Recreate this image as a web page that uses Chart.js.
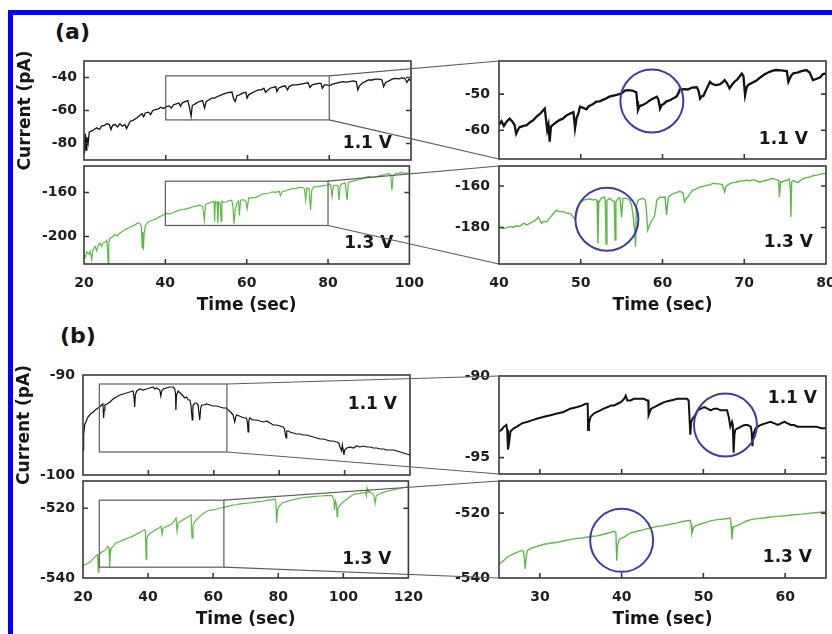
<!DOCTYPE html>
<html>
<head>
<meta charset="utf-8">
<script src="https://cdn.jsdelivr.net/npm/chart.js@4.4.0/dist/chart.umd.min.js"></script>
<style>
body { margin: 0; background: #fff; width: 832px; height: 634px; overflow: hidden; position: relative; }
#frame { position: absolute; left: 8px; top: 10px; width: 900px; height: 700px; border: 5px solid #0000ff; }
canvas.panel { position: absolute; }
.letter { position: absolute; font: bold 22px "DejaVu Sans"; line-height: 24px; color: #151515; }
#overlay { position: absolute; left: 0; top: 0; pointer-events: none; }
</style>
</head>
<body>
<div id="frame"></div>
<div class="letter" style="left:55px;top:20px">(a)</div>
<div class="letter" style="left:60px;top:324px">(b)</div>
<canvas id="aTL" class="panel"></canvas>
<canvas id="aBL" class="panel"></canvas>
<canvas id="aTR" class="panel"></canvas>
<canvas id="aBR" class="panel"></canvas>
<canvas id="bTL" class="panel"></canvas>
<canvas id="bBL" class="panel"></canvas>
<canvas id="bTR" class="panel"></canvas>
<canvas id="bBR" class="panel"></canvas>
<canvas id="overlay" width="832" height="634"></canvas>
<script>
// tick values
const aLeftTimeTicks = [20, 40, 60, 80, 100];
const aRightTimeTicks = [40, 50, 60, 70, 80];
const bLeftTimeTicks = [20, 40, 60, 80, 100, 120];
const bRightTimeTicks = [30, 40, 50, 60];
const aTopLeftTicks = [-40, -60, -80];
const aBotLeftTicks = [-160, -200];
const aTopRightTicks = [-50, -60];
const aBotRightTicks = [-160, -180];
const bTopLeftTicks = [-90, -100];
const bBotLeftTicks = [-520, -540];
const bTopRightTicks = [-90, -95];
const bBotRightTicks = [-520, -540];

// (a) 1.1 V, 20-100 s  [time, pA]
const aTopLeft = [[20.0,-78],[20.1,-86],[20.3,-74],[20.5,-84],[20.7,-76],[21.0,-80],[21.3,-73],[21.8,-72.5],[22.5,-71.5],[23.1,-70.5],[23.8,-71.5],[24.3,-69.5],[25.0,-69],[25.6,-68],[26.2,-68.5],[26.6,-71.5],[27.0,-69],[27.6,-68.5],[28.2,-70],[28.8,-68],[29.4,-69.5],[30.0,-68.5],[30.4,-71],[30.8,-69],[31.3,-66.5],[32.0,-66],[32.9,-64.5],[33.6,-63],[34.2,-62],[34.6,-63.8],[35.0,-61.5],[35.8,-61],[36.3,-62.5],[36.8,-60],[37.5,-59.5],[38.2,-59],[38.8,-58],[39.4,-58.8],[40.0,-57.8],[40.8,-57.2],[41.4,-58.5],[41.9,-56.5],[42.6,-56],[43.2,-55.5],[43.6,-57.5],[44.0,-55.5],[44.8,-54.5],[45.4,-54],[45.8,-58],[46.2,-63.5],[46.5,-57],[47.2,-56],[47.8,-55],[48.4,-54.5],[49.0,-54],[49.5,-58.5],[49.9,-54.5],[50.6,-53.5],[51.3,-52.5],[52.0,-52.5],[52.6,-51.5],[53.3,-51],[54.0,-50],[54.8,-49.5],[55.5,-49],[56.2,-48.8],[56.6,-53],[57.0,-54.5],[57.4,-51],[58.0,-50.5],[58.8,-49.5],[59.6,-49],[59.9,-52.5],[60.3,-50.5],[61.0,-49.5],[61.8,-48.5],[62.6,-47.5],[63.4,-47.5],[64.0,-46.5],[64.4,-49],[64.8,-48],[65.5,-46.5],[66.3,-46],[66.9,-45.5],[67.2,-48.5],[67.6,-46.5],[68.4,-45.5],[69.2,-45],[69.8,-47.5],[70.2,-45.5],[71.0,-44.5],[72.0,-44.5],[73.0,-44],[74.0,-43.5],[74.8,-43.2],[75.3,-46],[75.8,-44.5],[76.5,-44],[77.4,-43.5],[78.0,-43.5],[78.3,-46.5],[78.8,-44.5],[79.4,-44.5],[80.0,-45],[80.8,-44],[81.6,-43.5],[82.5,-43],[83.4,-42.5],[84.2,-42.8],[85.0,-42.5],[85.8,-42],[86.6,-42.5],[87.0,-47.5],[87.4,-45],[88.0,-43.5],[88.8,-42.5],[89.6,-41.5],[90.5,-41.5],[91.3,-41],[92.2,-41],[92.9,-41.5],[93.3,-45.5],[93.8,-43],[94.6,-42],[95.4,-41],[96.2,-40.5],[97.0,-40.8],[97.8,-40.2],[98.5,-40.5],[99.0,-43],[99.5,-41],[100,-42]];

// (a) 1.3 V, 20-100 s
const aBotLeft = [[20.0,-216],[20.3,-219],[20.7,-214],[21.2,-216],[21.5,-213.5],[21.9,-221],[22.2,-212],[22.7,-209],[23.1,-213],[23.5,-208],[23.9,-206],[24.3,-209],[24.7,-206],[25.2,-205],[25.6,-203.5],[25.8,-212],[25.95,-225],[26.1,-206],[26.4,-201.5],[27.0,-200.5],[27.6,-198.5],[28.2,-199.5],[28.6,-197.5],[29.2,-196],[30.0,-194],[30.8,-192.5],[31.6,-191],[32.5,-189.5],[33.3,-187.5],[33.8,-188.5],[34.1,-191],[34.3,-210],[34.45,-196],[34.6,-212],[34.8,-197],[35.1,-190],[35.7,-187],[36.3,-186],[37.0,-185],[37.8,-184],[38.6,-182],[39.3,-181],[40.1,-179],[41.0,-179.5],[41.9,-178.5],[42.7,-177],[43.5,-176],[44.3,-175.5],[45.1,-175],[46.0,-174],[46.8,-173],[47.6,-172.5],[48.4,-171.5],[49.2,-173],[49.6,-185],[49.9,-171],[50.4,-170],[51.0,-169.5],[51.7,-168],[52.0,-169],[52.1,-186.5],[52.3,-168],[52.7,-169],[52.9,-188],[53.1,-168.5],[53.5,-170],[53.7,-186],[53.9,-168],[54.4,-169],[55.0,-168.5],[55.7,-167.5],[56.3,-167],[56.6,-172],[56.9,-188.5],[57.2,-175],[57.6,-170],[58.0,-168],[58.2,-181],[58.5,-167],[59.2,-166.5],[59.8,-168],[60.1,-175],[60.5,-165],[61.3,-165],[62.3,-164.5],[63.1,-163],[63.9,-161.5],[64.8,-161],[65.6,-160.5],[66.3,-159.5],[67.1,-160],[68.0,-159],[68.3,-163],[68.7,-159.5],[69.6,-158.5],[70.4,-157.5],[71.2,-156.5],[72.0,-156.5],[72.9,-155.5],[73.6,-155.5],[74.2,-156.5],[74.5,-167],[74.8,-156],[75.3,-156.5],[75.7,-176],[76.0,-158],[76.5,-155],[77.2,-155],[77.8,-154.5],[78.6,-154],[79.4,-153.5],[80.2,-153],[80.6,-152.5],[81.0,-164],[81.3,-154],[81.9,-153.5],[82.4,-154],[82.7,-167],[83.0,-154],[83.5,-152],[84.2,-151.5],[84.7,-167],[85.0,-151],[85.8,-150],[86.8,-149],[87.6,-148.5],[88.4,-147.5],[89.2,-146.5],[90.0,-145.5],[90.8,-146],[91.7,-146],[92.5,-145],[93.3,-144.5],[94.1,-143.5],[94.9,-143],[95.4,-144],[95.7,-158],[96.0,-145],[96.5,-143],[97.3,-142.5],[98.1,-142],[98.9,-142.5],[99.8,-142.5]];

// (a) 1.1 V, zoom 40-80 s
const aTopRight = [[40.0,-58.5],[40.3,-57.5],[40.6,-58.8],[40.9,-57.7],[41.3,-56.8],[41.6,-57.5],[41.9,-58.5],[42.1,-61],[42.3,-60],[42.5,-59.2],[43.0,-58.8],[43.4,-58.6],[43.8,-57.8],[44.2,-57.2],[44.6,-56.2],[45.0,-55.5],[45.4,-54.5],[45.6,-54],[45.75,-57],[45.9,-60],[46.05,-58.5],[46.2,-63.2],[46.35,-59],[46.6,-58.5],[47.0,-57.8],[47.4,-57.2],[47.8,-56.8],[48.2,-56],[48.7,-55.4],[49.1,-55],[49.2,-57],[49.3,-59.5],[49.5,-56.5],[49.7,-55.5],[49.9,-53.5],[50.3,-53.8],[50.7,-54.2],[51.0,-53.3],[51.3,-53],[51.6,-52.6],[51.9,-52.1],[52.3,-52],[52.7,-51.6],[53.1,-51.2],[53.5,-50.7],[54.0,-50.4],[54.4,-50.2],[55.0,-49.8],[55.4,-49],[55.8,-48.9],[56.3,-49],[56.8,-49.5],[56.9,-52],[57.0,-54.4],[57.2,-53.3],[57.6,-53],[58.0,-52.5],[58.4,-51.8],[58.8,-51.3],[59.3,-50.7],[59.5,-51.5],[59.7,-54],[59.9,-53],[60.1,-52.8],[60.5,-52],[60.9,-51.7],[61.3,-51.2],[61.7,-50.7],[62.0,-49.5],[62.1,-48.7],[62.6,-48.6],[63.1,-48.7],[63.6,-48.2],[64.2,-48.1],[64.4,-49],[64.6,-51.2],[64.8,-50.6],[65.0,-50.5],[65.4,-48.5],[65.8,-46.6],[66.1,-47.2],[66.5,-47.5],[67.0,-47.3],[67.4,-46.6],[67.6,-46.1],[67.9,-47],[68.2,-48.4],[68.5,-47.4],[68.8,-46.6],[69.2,-45.8],[69.7,-44.3],[69.9,-45],[70.1,-50.3],[70.3,-48],[70.5,-47.4],[71.0,-46.8],[71.5,-46.2],[72.0,-45.3],[72.5,-44.5],[73.1,-43.8],[73.5,-43.5],[73.9,-43.3],[74.5,-43.4],[75.2,-43.6],[75.4,-46.6],[75.7,-45],[76.0,-44.2],[76.5,-44],[77.0,-43.6],[77.6,-43.3],[78.0,-44],[78.4,-46.1],[78.8,-45.8],[79.3,-45.3],[79.6,-44.5],[80.0,-44.2]];

// (a) 1.3 V, zoom 40-80 s
const aBotRight = [[40.0,-179.7],[40.5,-180.5],[40.9,-180.2],[41.3,-179.5],[41.7,-180],[42.1,-179.2],[42.5,-179.5],[42.8,-178.5],[43.1,-178],[43.4,-178.8],[43.7,-178.2],[44.0,-177.5],[44.3,-176.8],[44.6,-176],[44.8,-175],[45.0,-176.5],[45.2,-178],[45.5,-177],[45.8,-177.3],[46.2,-175.5],[46.6,-173.5],[47.0,-171.7],[47.4,-172.5],[47.8,-172.3],[48.2,-173],[48.7,-173.3],[49.1,-175],[49.3,-176],[49.5,-173.5],[49.7,-169.3],[50.0,-168],[50.3,-166.9],[50.7,-166.5],[51.1,-166.2],[51.5,-166.8],[51.8,-166.5],[52.0,-167],[52.1,-187.7],[52.2,-168],[52.5,-166],[52.9,-165.3],[53.0,-167],[53.1,-188],[53.2,-167],[53.5,-166],[53.8,-166.8],[54.1,-167.5],[54.2,-186.1],[54.3,-167.5],[54.6,-166],[54.8,-165.8],[55.0,-175],[55.15,-166],[55.5,-166],[55.8,-166.2],[56.0,-167],[56.2,-169],[56.4,-174],[56.6,-182],[56.7,-189.3],[56.8,-170],[57.0,-167],[57.2,-166.5],[57.6,-166],[57.9,-166.8],[58.0,-170],[58.2,-181.3],[58.4,-179],[58.6,-177.5],[58.8,-176],[59.0,-175],[59.2,-170],[59.3,-166.9],[59.7,-165.3],[60.0,-165.5],[60.3,-165.3],[60.5,-174],[60.7,-165.5],[61.0,-164.5],[61.3,-163.7],[61.7,-163.2],[62.1,-162.6],[62.5,-163.3],[62.7,-167.7],[62.9,-166],[63.1,-165.3],[63.4,-163.5],[63.7,-162],[64.1,-161.5],[64.6,-160.5],[65.0,-160.2],[65.4,-159.7],[65.8,-159.5],[66.2,-158.7],[66.6,-159],[67.0,-159],[67.3,-159.3],[67.6,-162.9],[67.8,-160],[68.2,-159],[68.6,-158.4],[69.0,-158.2],[69.4,-157.6],[69.8,-157.5],[70.3,-157.3],[70.7,-157.5],[71.1,-157],[71.5,-157.5],[71.9,-158.2],[72.3,-157.6],[72.7,-157.4],[73.1,-156.8],[73.5,-156.4],[73.9,-157],[74.2,-157.4],[74.3,-165.3],[74.45,-158],[74.6,-158.2],[74.9,-157.5],[75.2,-157.4],[75.5,-156.6],[75.65,-162],[75.7,-175],[75.8,-158],[76.0,-157.4],[76.3,-158],[76.6,-158.3],[77.0,-157],[77.2,-156.4],[77.6,-156],[78.0,-155.7],[78.5,-155],[78.9,-154.8],[79.4,-154.2],[80.0,-154]];

// (b) 1.1 V, 20-120 s
const bTopLeft = [[20.0,-97.5],[20.2,-96],[20.5,-95],[21.0,-94.6],[21.5,-94.2],[22.3,-93.9],[23.1,-93.7],[24.1,-93.4],[25.1,-93.2],[25.7,-93],[26.1,-92.9],[26.3,-94.3],[26.5,-93.5],[26.7,-93],[27.4,-92.9],[28.2,-92.7],[29.2,-92.4],[30.2,-92.2],[31.3,-92],[32.3,-91.9],[33.3,-91.8],[34.3,-91.7],[35.3,-91.6],[35.6,-92.2],[35.8,-93.2],[36.0,-92],[36.4,-91.6],[36.9,-91.5],[37.4,-91.4],[38.4,-91.5],[39.4,-91.4],[40.4,-91.3],[41.4,-91.2],[42.0,-91.4],[42.5,-91.3],[43.5,-91.5],[43.8,-92.1],[44.1,-91.6],[44.5,-91.4],[45.5,-91.3],[46.5,-91.2],[47.6,-91.2],[48.1,-91.4],[48.3,-92],[48.4,-93.5],[48.6,-92],[49.1,-91.6],[50.1,-91.9],[51.1,-92.3],[51.7,-92.2],[52.2,-92.5],[52.7,-92.5],[53.0,-93],[53.4,-94.5],[53.6,-93.2],[53.7,-93],[54.2,-92.8],[54.7,-92.8],[55.2,-93],[55.7,-94.5],[56.0,-93.3],[56.3,-93],[57.0,-93],[57.8,-92.9],[58.8,-93],[59.8,-93.1],[60.8,-93.1],[61.9,-93.2],[62.9,-93.3],[63.9,-93.3],[64.7,-93.6],[65.4,-93.8],[65.9,-94],[66.4,-94.7],[66.7,-94.2],[67.0,-94],[67.8,-94.1],[68.5,-94.2],[69.3,-94.3],[70.0,-94.3],[70.3,-94.8],[70.5,-95.7],[70.7,-94.6],[71.0,-94.3],[72.0,-94.5],[73.1,-94.5],[74.1,-94.6],[75.2,-94.7],[76.2,-94.6],[77.2,-94.8],[78.2,-95],[79.2,-95],[80.2,-95.1],[81.2,-95.2],[81.6,-95.4],[81.9,-96],[82.1,-96.3],[82.3,-95.6],[82.8,-95.6],[83.3,-95.7],[84.3,-95.8],[85.3,-95.9],[86.4,-95.9],[87.4,-96],[88.4,-96],[89.4,-96.1],[90.4,-96.2],[91.5,-96.3],[92.5,-96.4],[93.5,-96.4],[94.5,-96.5],[95.5,-96.6],[96.5,-96.6],[97.6,-96.7],[98.2,-96.8],[98.6,-97.2],[99.1,-97.6],[99.3,-97],[99.6,-97.5],[99.8,-98],[100.0,-97.5],[100.7,-97.3],[101.7,-97.2],[102.7,-97.3],[103.7,-97.1],[104.7,-97.2],[105.8,-97.1],[106.8,-97.2],[107.8,-97.2],[108.8,-97.3],[109.8,-97.3],[110.9,-97.4],[111.9,-97.4],[112.9,-97.5],[113.9,-97.5],[115.0,-97.5],[116.0,-97.6],[117.0,-97.7],[118.0,-97.8],[119.0,-97.9],[120.0,-98]];

// (b) 1.3 V, 20-120 s
const bBotLeft = [[20.0,-536.5],[21.0,-536],[22.1,-535.5],[23.1,-534.5],[24.1,-533.6],[24.5,-533.3],[24.7,-538.3],[24.9,-535],[25.1,-533.2],[25.8,-532.5],[26.6,-532.2],[27.2,-531.5],[27.7,-531],[28.0,-531.5],[28.2,-537],[28.4,-533],[28.7,-531.5],[29.4,-530.7],[30.2,-529.9],[31.2,-529.6],[32.2,-529.2],[33.3,-528.8],[34.3,-528.4],[35.3,-528],[36.3,-527.5],[37.4,-527],[38.2,-526.5],[38.9,-526.1],[39.2,-526.5],[39.4,-534.6],[39.6,-529],[39.9,-528],[40.4,-527.4],[40.9,-527],[41.7,-526.5],[42.5,-526.1],[43.3,-525.7],[44.0,-525.2],[44.3,-527.5],[44.6,-525.8],[45.0,-525.5],[45.8,-525.2],[46.7,-524.8],[47.6,-524.2],[48.1,-523.6],[48.6,-522.8],[48.9,-526.6],[49.2,-524.5],[49.6,-524],[50.3,-523.6],[51.0,-523.2],[51.7,-522.8],[52.5,-522.4],[53.2,-521.9],[53.5,-528.5],[53.8,-525],[54.2,-524],[54.9,-523.3],[55.7,-522.5],[56.7,-521.7],[57.8,-521],[58.8,-520.6],[59.8,-520.5],[60.8,-520.3],[61.9,-520],[62.9,-519.8],[63.9,-519.6],[64.9,-519.4],[65.9,-519.1],[67.0,-519],[68.0,-518.8],[69.0,-518.7],[70.0,-518.6],[71.0,-518.5],[72.1,-518.4],[73.1,-518.2],[74.1,-518.1],[75.1,-518],[76.2,-517.8],[77.2,-517.6],[78.2,-517.6],[79.0,-517.3],[79.3,-518.5],[79.5,-524.2],[79.8,-520.5],[80.2,-519.5],[81.2,-518.5],[82.3,-518.2],[83.3,-517.9],[84.3,-517.6],[85.3,-517.4],[86.4,-517.2],[87.4,-517],[88.4,-516.9],[89.4,-516.8],[90.4,-516.7],[91.5,-516.6],[92.5,-516.5],[93.5,-516.5],[94.5,-516.4],[95.5,-516.4],[96.5,-516.3],[97.1,-517.5],[97.3,-520.5],[97.6,-518],[97.9,-519],[98.1,-522.4],[98.3,-520.5],[98.6,-519.5],[99.1,-519],[99.6,-518.5],[100.2,-518],[100.7,-517.7],[101.7,-517],[102.7,-516.3],[103.7,-515.9],[104.7,-515.8],[105.8,-515.6],[106.8,-515.4],[107.1,-516.5],[107.3,-514.2],[107.6,-515.4],[107.8,-515],[108.4,-515.5],[109.3,-516],[109.6,-517.5],[109.8,-518.6],[110.1,-516.5],[110.8,-516],[111.9,-515.6],[112.9,-515.3],[114.0,-515],[115.0,-514.8],[116.0,-514.6],[117.0,-514.4],[118.0,-514.2],[119.0,-514],[120.0,-513.8]];

// (b) 1.1 V, zoom 25-65 s
const bTopRight = [[25.0,-93.4],[25.3,-93.3],[25.6,-93.1],[25.9,-93.0],[26.0,-93.3],[26.1,-94.5],[26.2,-94.2],[26.3,-93.8],[26.4,-93.4],[26.8,-93.2],[27.2,-93.1],[27.8,-92.9],[28.5,-92.8],[29.1,-92.7],[29.7,-92.6],[30.5,-92.5],[31.3,-92.4],[32.1,-92.3],[32.9,-92.2],[33.7,-92.0],[34.6,-91.9],[35.2,-91.8],[35.6,-91.7],[35.85,-91.7],[35.9,-93.3],[36.0,-92.9],[36.2,-92.5],[36.6,-92.3],[37.0,-92.2],[37.4,-92.1],[37.8,-92.0],[38.3,-91.9],[38.7,-91.8],[39.1,-91.8],[39.5,-91.7],[39.9,-91.6],[40.3,-91.4],[40.5,-91.2],[40.7,-91.5],[41.1,-91.5],[41.5,-91.4],[41.9,-91.4],[42.3,-91.4],[42.7,-91.4],[43.1,-91.5],[43.25,-91.5],[43.3,-92.4],[43.6,-92.0],[44.0,-91.9],[44.4,-91.8],[44.8,-91.7],[45.2,-91.6],[45.6,-91.55],[46.0,-91.5],[46.4,-91.45],[46.8,-91.4],[47.2,-91.4],[47.6,-91.4],[48.0,-91.4],[48.2,-91.5],[48.3,-92.5],[48.4,-93.6],[48.5,-92.8],[48.7,-92.6],[49.0,-92.4],[49.3,-92.1],[49.7,-92.0],[50.1,-91.9],[50.5,-92.0],[50.9,-92.1],[51.3,-92.0],[51.7,-92.0],[52.1,-92.1],[52.5,-92.1],[52.9,-92.1],[53.1,-92.5],[53.3,-93.1],[53.5,-92.8],[53.6,-93.0],[53.7,-94.7],[53.8,-93.6],[53.9,-93.3],[54.2,-93.2],[54.6,-93.1],[55.0,-93.0],[55.4,-93.0],[55.8,-93.1],[55.9,-93.4],[56.0,-94.3],[56.1,-93.6],[56.4,-93.2],[57.0,-93.0],[57.6,-92.9],[58.2,-92.8],[58.7,-92.9],[59.1,-93.0],[59.5,-92.9],[59.9,-92.8],[60.3,-92.9],[60.7,-93.0],[61.1,-93.0],[61.5,-93.1],[61.9,-93.1],[62.3,-93.1],[63.1,-93.1],[63.8,-93.1],[64.4,-93.2],[65.0,-93.2]];

// (b) 1.3 V, zoom 25-65 s
const bBotRight = [[25.0,-535.7],[25.5,-534.8],[26.0,-533.6],[26.6,-532.8],[27.2,-532.1],[27.8,-531.5],[28.0,-531.8],[28.1,-534],[28.2,-537.2],[28.35,-533],[28.5,-531.5],[28.9,-530.9],[29.7,-530.2],[30.5,-529.6],[31.3,-529.3],[32.1,-529.0],[33.0,-528.5],[33.8,-528.1],[34.6,-527.8],[35.4,-527.6],[36.2,-527.2],[37.0,-527.0],[37.8,-526.5],[38.7,-525.9],[39.1,-525.6],[39.3,-526],[39.4,-534.7],[39.5,-530],[39.7,-528.2],[40.0,-527.7],[40.3,-527.4],[40.7,-526.7],[41.1,-526.1],[41.9,-525.6],[42.7,-525.1],[43.5,-524.6],[44.4,-524.1],[45.2,-523.8],[46.0,-523.4],[46.8,-523.0],[47.6,-522.5],[48.4,-522.2],[48.5,-523.5],[48.6,-526.3],[48.8,-524.5],[49.0,-524.0],[49.5,-523.5],[50.1,-523.0],[50.9,-522.4],[51.7,-522.0],[52.5,-521.8],[53.3,-521.5],[53.4,-524],[53.5,-528.1],[53.6,-525],[53.7,-524.2],[54.2,-523.8],[54.6,-523.3],[55.2,-522.5],[55.8,-522.0],[56.6,-521.7],[57.4,-521.5],[58.2,-521.2],[59.1,-521.0],[60.1,-520.8],[61.1,-520.5],[62.1,-520.3],[63.1,-520.0],[64.0,-519.8],[65.0,-519.6]];

// zoom windows [t0, t1, pA low, pA high] and circled events [t, pA]
const zoomA1 = [40, 80, -65.7, -39];
const zoomA2 = [40, 80, -190, -149.8];
const zoomB1 = [25, 64, -97.7, -90.9];
const zoomB2 = [25, 63.3, -536.9, -517.7];
const eventA1 = [58.7, -51.9];
const eventA2 = [53.2, -176];
const eventB1 = [52.7, -93];
const eventB2 = [40, -528.4];

Chart.defaults.font.family = 'DejaVu Sans';
// canvas margins round each plot box (y tick padding adds to the vertical overflow)
const PADL = 70, PADT = 22, PADR = 24, PADB_TOP = 22, PADB_AXIS = 56;
const BLACK = '#121212', GREEN = '#5cba45';
const tickFont = { family: 'DejaVu Sans', size: 14, weight: 'bold' };
const titleFont = { family: 'DejaVu Sans', size: 17, weight: 'bold' };

const decor = {
  id: 'decor',
  afterDatasetsDraw(chart, args, opt) {
    const { ctx, chartArea: a, scales: { x, y } } = chart;
    ctx.save();
    if (opt.zoom) {
      const [t0, t1, lo, hi] = opt.zoom;
      const x0 = x.getPixelForValue(t0), x1 = x.getPixelForValue(t1);
      const y0 = y.getPixelForValue(hi), y1 = y.getPixelForValue(lo);
      ctx.strokeStyle = '#5c5c5c';
      ctx.lineWidth = 1.2;
      ctx.strokeRect(x0, y0, x1 - x0, y1 - y0);
    }
    if (opt.ring) {
      ctx.strokeStyle = '#3b3ca6';
      ctx.lineWidth = 2;
      ctx.beginPath();
      ctx.arc(x.getPixelForValue(opt.ring[0]), y.getPixelForValue(opt.ring[1]), 31.5, 0, Math.PI * 2);
      ctx.stroke();
    }
    // frame + inward ticks
    ctx.strokeStyle = '#3a3a3a';
    ctx.lineWidth = 1.6;
    ctx.strokeRect(a.left, a.top, a.right - a.left, a.bottom - a.top);
    ctx.beginPath();
    x.ticks.forEach(t => {
      const px = x.getPixelForValue(t.value);
      if (px > a.left + 2 && px < a.right - 2) { ctx.moveTo(px, a.bottom); ctx.lineTo(px, a.bottom - 5); }
    });
    y.ticks.forEach(t => {
      const py = y.getPixelForValue(t.value);
      if (py > a.top + 2 && py < a.bottom - 2) {
        ctx.moveTo(a.left, py); ctx.lineTo(a.left + 5, py);
        ctx.moveTo(a.right, py); ctx.lineTo(a.right - 5, py);
      }
    });
    ctx.stroke();
    if (opt.tag) {
      ctx.fillStyle = '#161616';
      ctx.font = 'bold 17px "DejaVu Sans"';
      ctx.textAlign = 'right';
      ctx.textBaseline = 'alphabetic';
      const cy = opt.tagTop ? a.top + opt.dy : a.bottom - opt.dy;
      ctx.fillText(opt.tag, a.right - opt.dx, cy + 6);
    }
    ctx.restore();
  }
};

function panel(id, box, o) {
  const cv = document.getElementById(id);
  const padB = o.xTitle ? PADB_AXIS : PADB_TOP;
  cv.width = box.w + PADL + PADR;
  cv.height = box.h + PADT + padB;
  cv.style.left = (box.l - PADL) + 'px';
  cv.style.top = (box.t - PADT) + 'px';
  return new Chart(cv, {
    type: 'line',
    data: {
      datasets: [{
        data: o.data.map(([t, v]) => ({ x: t, y: v })),
        borderColor: o.color,
        borderWidth: o.lw,
        pointRadius: 0,
        tension: 0
      }]
    },
    options: {
      responsive: false,
      animation: false,
      devicePixelRatio: 1,
      layout: { padding: { left: 0, top: PADT, right: PADR, bottom: 0 } },
      plugins: {
        legend: { display: false },
        tooltip: { enabled: false },
        decor: o.decor
      },
      scales: {
        x: {
          type: 'linear',
          min: o.xRange[0], max: o.xRange[1],
          afterBuildTicks: s => { s.ticks = o.xTicks.map(v => ({ value: v })); },
          afterFit: s => { s.height = padB; },
          grid: { display: false, drawTicks: false },
          border: { display: false },
          ticks: { display: !!o.xTitle, padding: 11, font: tickFont, color: '#1e1e1e', maxRotation: 0, autoSkip: false },
          title: o.xTitle
            ? { display: true, text: o.xTitle, font: titleFont, color: '#161616', padding: { top: 0, bottom: 4 } }
            : { display: false }
        },
        y: {
          min: o.yRange[0], max: o.yRange[1],
          afterBuildTicks: s => { s.ticks = o.yTicks.map(v => ({ value: v })); },
          afterFit: s => { s.width = PADL; },
          grid: { display: false, drawTicks: false },
          border: { display: false },
          ticks: { padding: o.yPad, font: tickFont, color: '#1e1e1e', autoSkip: false },
          title: o.yTitle
            ? { display: true, text: o.yTitle, font: titleFont, color: '#161616', padding: { top: 1, bottom: 0 } }
            : { display: false }
        }
      }
    },
    plugins: [decor]
  });
}

const aTL = panel('aTL', { l: 84, t: 61, w: 327, h: 99 }, {
  data: aTopLeft, color: BLACK, lw: 1.3, xRange: [20, 100], yRange: [-90, -30],
  xTicks: aLeftTimeTicks, yTicks: aTopLeftTicks, yPad: 7, yTitle: 'Current (pA)',
  decor: { zoom: zoomA1, tag: '1.1 V', dx: 19, dy: 18.5 }
});
const aBL = panel('aBL', { l: 84, t: 166, w: 327, h: 98 }, {
  data: aBotLeft, color: GREEN, lw: 1.2, xRange: [20, 100], yRange: [-225, -136],
  xTicks: aLeftTimeTicks, yTicks: aBotLeftTicks, yPad: 7, xTitle: 'Time (sec)',
  decor: { zoom: zoomA2, tag: '1.3 V', dx: 16, dy: 22.5 }
});
const aTR = panel('aTR', { l: 499, t: 61, w: 327, h: 98 }, {
  data: aTopRight, color: BLACK, lw: 2.3, xRange: [40, 80], yRange: [-68, -40.8],
  xTicks: aRightTimeTicks, yTicks: aTopRightTicks, yPad: 9,
  decor: { ring: eventA1, tag: '1.1 V', dx: 18, dy: 21.5 }
});
const aBR = panel('aBR', { l: 499, t: 166, w: 327, h: 98 }, {
  data: aBotRight, color: GREEN, lw: 1.4, xRange: [40, 80], yRange: [-197.6, -150.4],
  xTicks: aRightTimeTicks, yTicks: aBotRightTicks, yPad: 9, xTitle: 'Time (sec)',
  decor: { ring: eventA2, tag: '1.3 V', dx: 13, dy: 23.5 }
});
const bTL = panel('bTL', { l: 83, t: 375, w: 327, h: 100 }, {
  data: bTopLeft, color: BLACK, lw: 1.2, xRange: [20, 120], yRange: [-100, -90],
  xTicks: bLeftTimeTicks, yTicks: bTopLeftTicks, yPad: 8, yTitle: 'Current (pA)',
  decor: { zoom: zoomB1, tag: '1.1 V', tagTop: true, dx: 13, dy: 27.5 }
});
const bBL = panel('bBL', { l: 83, t: 481, w: 327, h: 97 }, {
  data: bBotLeft, color: GREEN, lw: 1.2, xRange: [20, 120], yRange: [-540, -512.2],
  xTicks: bLeftTimeTicks, yTicks: bBotLeftTicks, yPad: 8, xTitle: 'Time (sec)',
  decor: { zoom: zoomB2, tag: '1.3 V', dx: 17, dy: 20.5 }
});
const bTR = panel('bTR', { l: 499, t: 376, w: 327, h: 98 }, {
  data: bTopRight, color: BLACK, lw: 2, xRange: [25, 65], yRange: [-96, -90],
  xTicks: bRightTimeTicks, yTicks: bTopRightTicks, yPad: 9,
  decor: { ring: eventB1, tag: '1.1 V', tagTop: true, dx: 9, dy: 20.5 }
});
const bBR = panel('bBR', { l: 499, t: 481, w: 327, h: 97 }, {
  data: bBotRight, color: GREEN, lw: 1.4, xRange: [25, 65], yRange: [-540, -510.1],
  xTicks: bRightTimeTicks, yTicks: bBotRightTicks, yPad: 9, xTitle: 'Time (sec)',
  decor: { ring: eventB2, tag: '1.3 V', dx: 14, dy: 22 }
});

// connector lines from each zoom window to its enlarged panel
const ov = document.getElementById('overlay').getContext('2d');
ov.strokeStyle = '#5c5c5c';
ov.lineWidth = 1.2;
ov.beginPath();
function link(left, win, right) {
  const lx = left.canvas.offsetLeft, ly = left.canvas.offsetTop;
  const rx = right.canvas.offsetLeft, ry = right.canvas.offsetTop;
  const x1 = lx + left.scales.x.getPixelForValue(win[1]);
  const yHi = ly + left.scales.y.getPixelForValue(win[3]);
  const yLo = ly + left.scales.y.getPixelForValue(win[2]);
  const ra = right.chartArea;
  ov.moveTo(x1, yHi); ov.lineTo(rx + ra.left, ry + ra.top);
  ov.moveTo(x1, yLo); ov.lineTo(rx + ra.left, ry + ra.bottom);
}
link(aTL, zoomA1, aTR);
link(aBL, zoomA2, aBR);
link(bTL, zoomB1, bTR);
link(bBL, zoomB2, bBR);
ov.stroke();
</script>
</body>
</html>
